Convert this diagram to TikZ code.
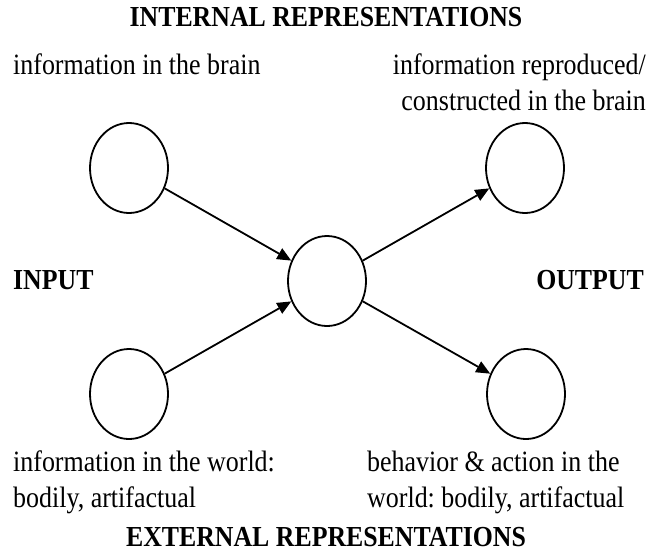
\documentclass[tikz,border=0pt]{standalone}
\usepackage{fontspec}
\setmainfont{Liberation Serif}
\usetikzlibrary{arrows.meta,shapes.geometric}
\frenchspacing

\tikzset{
  blob/.style={draw=black,ellipse,line width=1.8pt,minimum width=78pt,minimum height=90pt,inner sep=0pt},
  flow/.style={line width=1.8pt,-{Triangle[length=14pt,width=12pt]}},
  txt/.style={font=\fontsize{29.5}{36}\selectfont,inner sep=0pt,xscale=0.88},
  head/.style={font=\fontsize{29}{36}\selectfont\bfseries,inner sep=0pt,xscale=0.89}
}

\begin{document}
\begin{tikzpicture}[x=1pt,y=-1pt]
            \useasboundingbox (0,0) rectangle (647,555);
            % circles
            \node[blob] (inbrain) at (129,168) {};
            \node[blob] (inworld) at (129,394) {};
            \node[blob] (mind) at (327,281) {};
            \node[blob] (outbrain) at (525,168) {};
            \node[blob] (outworld) at (526,394) {};
            \draw[flow] (inbrain) -- (mind);
            \draw[flow] (inworld) -- (mind);
            \draw[flow] (mind) -- (outbrain);
            \draw[flow] (mind) -- (outworld);
            % labels
            \node[head,anchor=base] (inthead) at (326,26) {INTERNAL REPRESENTATIONS};
            \node[head,anchor=base] (exthead) at (326,546) {EXTERNAL REPRESENTATIONS};
            \node[head,anchor=base west] (inlab) at (13,289) {INPUT};
            \node[head,anchor=base east] (outlab) at (644,289) {OUTPUT};
            \node[txt,anchor=base west] (tltext) at (13,74) {information in the brain};
            \node[txt,anchor=base east] (trtext1) at (646,74) {information reproduced/};
            \node[txt,anchor=base east] (trtext2) at (646,110) {constructed in the brain};
            \node[txt,anchor=base west,align=left] (bltext) at (13,507) {information in the world:\\bodily, artifactual};
            \node[txt,anchor=base west,align=left] (brtext) at (367,507) {behavior \& action in the\\world: bodily, artifactual};
      \end{tikzpicture}
\end{document}
